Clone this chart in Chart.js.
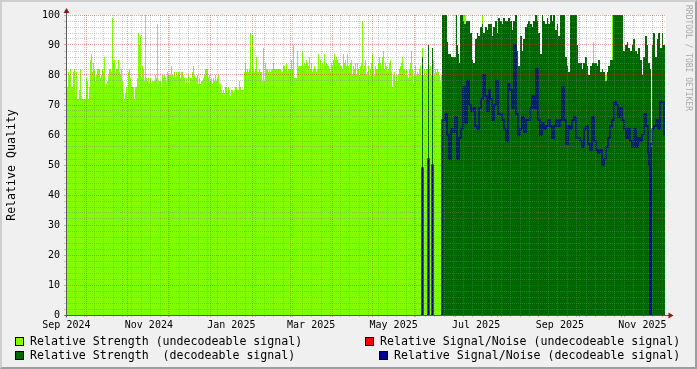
<!DOCTYPE html>
<html>
<head>
<meta charset="utf-8">
<script src="https://cdn.jsdelivr.net/npm/chart.js@4/dist/chart.umd.min.js"></script>
<style>
  html, body { margin:0; padding:0; background:#F0F0F0; }
  #frame { position:absolute; left:0; top:0; width:697px; height:369px; box-sizing:border-box;
           border-top:2px solid #CFCFCF; border-left:2px solid #CFCFCF;
           border-right:2px solid #9E9E9E; border-bottom:2px solid #9E9E9E; background:#F0F0F0; }
  #chart { position:absolute; left:0; top:0; }
  .lg { position:absolute; font-family:'DejaVu Sans Mono', monospace; font-size:11.6px; line-height:14px;
        color:#000; white-space:pre; }
  .box { position:absolute; width:7px; height:7px; border:1px solid #000; }
  #credit { position:absolute; left:683px; top:5px; writing-mode:vertical-rl;
            font-family:'DejaVu Sans Mono', monospace; font-size:8px; line-height:10px; color:#A8A8A8; }
</style>
</head>
<body>
<div id="frame"></div>
<canvas id="chart" width="697" height="369"></canvas>

<div class="box" style="left:15px;top:337px;background:#80FF00"></div>
<div class="lg" style="left:30px;top:334px">Relative Strength (undecodeable signal)</div>
<div class="box" style="left:365px;top:337px;background:#FF0000"></div>
<div class="lg" style="left:380px;top:334px">Relative Signal/Noise (undecodeable signal)</div>
<div class="box" style="left:15px;top:351px;background:#006600"></div>
<div class="lg" style="left:30px;top:348px">Relative Strength  (decodeable signal)</div>
<div class="box" style="left:379px;top:351px;background:#000099"></div>
<div class="lg" style="left:394px;top:348px">Relative Signal/Noise (decodeable signal)</div>
<div id="credit">RRDTOOL / TOBI OETIKER</div>

<script>
// rrdtool style quality graph - one sample per pixel column

const MONTHS = ['Jan','Feb','Mar','Apr','May','Jun','Jul','Aug','Sep','Oct','Nov','Dec'];
const xTickLabels = ['Sep 2024','Nov 2024','Jan 2025','Mar 2025','May 2025','Jul 2025','Sep 2025','Nov 2025'];

const T_START = Date.UTC(2024, 8, 16, 5, 0);   // first sample
const STEP_MS = 63900 * 1000;                   // sample step
const N_SAMPLES = 600;
const DEC_FROM = 350;                           // first sample of the decodeable series

// relative strength, undecodeable signal (light green)
const undecStrength = [
  76,76,81,80,82,76,76,81,82,73, 81,72,72,75,82,73,72,72,72,72,
  79,78,72,76,85,87,81,84,82,78, 80,82,82,82,79,80,82,81,86,76,
  77,78,80,82,82,81,99,84,85,81, 82,82,85,81,80,82,78,74,72,74,
  76,72,81,82,79,76,76,76,72,76, 76,79,94,90,93,79,83,82,78,100,
  79,78,79,77,79,77,78,78,78,80, 79,97,78,78,78,76,80,79,80,79,
  78,81,80,80,80,83,80,79,81,79, 81,80,81,81,79,81,81,80,79,77,
  79,77,80,77,79,79,81,83,80,79, 79,80,77,79,77,78,78,79,80,82,
  82,82,79,80,78,79,77,79,78,80, 78,79,80,76,77,75,74,75,74,76,
  76,74,76,75,73,75,75,74,75,76, 76,75,75,
  78,76,75,75,75,81,84,81,82,81, 82,94,81,93,82,81,82,86,81,81,
  82,81,81,78,89,78,84,82,82,81, 82,81,82,82,84,82,82,82,82,82,
  82,82,81,81,83,83,82,84,81,82, 82,82,85,82,90,79,79,79,88,83,
  83,83,83,88,83,84,83,85,84,83, 86,82,84,81,82,83,82,81,82,87,
  82,85,82,84,82,87,83,84,83,83, 82,81,84,83,85,87,85,86,85,84,
  84,83,83,82,87,84,85,83,87,83, 81,84,85,80,83,82,84,80,84,82,
  80,83,84,98,82,83,85,80,81,83, 80,82,84,87,82,80,83,82,82,84,
  86,84,82,86,88,82,84,83,81,82, 84,85,81,76,80,81,78,80,78,80,
  82,83,84,86,82,82,80,82,80,79, 82,84,88,82,77,80,83,80,81,80,
  82,83,80,89,80,82,80,82,82,81, 82,83,80,83,85,80,82,81,82,81,
  80,78,80,
  0,0,0,0,0,0,0,0,0,0, 0,0,0,0,0,0,0,0,0,0,
  0,100,100,100,0,0,0,0,0,0, 0,0,0,0,0,0,0,0,0,0,
  100,0,0,0,0,0,0,0,0,0, 0,0,0,0,0,0,0,0,0,0,
  0,0,0,0,0,0,0,0,0,0, 0,0,0,0,0,0,0,0,0,0,
  0,0,0,0,0,0,0,0,0,0, 0,0,0,0,0,100,0,0,0,0,
  0,0,0,0,0,0,0,0,0,0, 0,0,0,0,0,0,0,0,0,0,
  0,0,0,0,0,0,0,0,0,0, 0,0,0,0,0,0,0,0,0,0,
  0,0,0,0,0,0,0,0,0,0, 0,91,0,0,0,0,0,0,0,0,
  0,0,0,80,80,0,0,0,0,0, 100,0,0,0,0,0,0,0,0,0,
  0,0,0,0,0,0,0,0,0,0, 0,0,0,0,0,0,0,0,0,82,
  0,0,0,0,0,0,0,0,0,0, 0,0,0,0
];

// relative strength, decodeable signal (dark green), from DEC_FROM
const decStrength = [
  0,0,0,0,0,0,86,0,0,0, 0,0,90,0,0,0,89,0,0,0, 0,0,0,0,0,0,
  100,100,100,100,100,91,87,87,87,86, 86,86,86,86,100,90,87,84,100,100,
  100,98,97,97,98,98,98,98,94,94, 85,84,84,92,92,94,93,93,96,96,
  97,94,94,96,96,95,97,97,97,97, 93,96,96,98,98,94,99,99,98,98,
  97,99,99,98,98,98,99,99,98,98, 95,98,98,100,100,88,83,83,93,93,
  88,92,92,96,96,97,98,98,97,97, 96,98,98,100,100,98,94,94,87,87,
  100,98,98,97,97,99,97,97,100,100, 98,100,100,95,95,97,93,93,100,100,
  100,100,100,86,86,83,81,81,100,100, 100,100,100,100,100,90,84,84,84,84,
  82,84,84,86,86,83,80,80,83,83, 84,84,84,84,84,83,85,85,81,81,
  82,81,81,78,78,81,83,83,85,85, 85,100,100,100,100,100,100,100,100,100,
  100,88,88,90,90,91,89,89,88,88, 90,92,92,88,88,87,89,89,85,85,
  80,86,86,93,93,90,84,84,82,56, 90,94,94,86,86,92,94,94,89,89,
  94,90,90,92
];

// relative signal/noise, decodeable signal (blue line), from DEC_FROM
const decSignalNoise = [
  null,null,null,null,null,0,49,0,null,null, null,0,52,0,null,0,50,0,null,null,
  null,null,null,null,null,0,
  65,65,65,67,67,60,60,52,52,62, 62,61,61,66,66,52,52,59,59,62,
  62,76,76,64,64,78,78,70,70,68, 68,69,69,63,63,62,62,69,69,72,
  72,80,80,73,73,68,68,75,72,72, 65,65,70,70,78,78,67,67,67,67,
  65,65,62,62,58,58,77,77,75,75, 69,69,90,90,67,67,60,60,62,62,
  66,66,61,61,65,65,65,65,69,69, 73,73,69,69,82,82,65,65,60,60,
  64,64,62,62,63,63,65,65,63,63, 59,59,63,63,65,65,63,63,65,65,
  76,76,65,65,57,57,63,63,62,62, 65,65,66,66,59,59,59,59,58,58,
  56,56,62,62,63,63,57,57,55,55, 66,66,58,58,55,55,54,54,55,55,
  50,50,52,52,56,56,59,59,63,63, 65,65,71,71,70,70,66,66,69,69,
  65,65,62,62,59,59,62,62,58,58, 56,56,62,62,56,56,59,59,58,58,
  60,60,67,67,63,63,54,50,0,57, 62,62,63,63,65,65,62,62,71,71,
  71,71,60,60
];

const COL_UNDEC = '#80FF00';
const COL_DEC = '#006600';
const COL_SN = '#000099';
const GRID_MINOR = 'rgba(130,130,130,0.4)';
const GRID_MAJOR = 'rgba(210,40,40,0.42)';
const FONT = "'DejaVu Sans Mono', monospace";

const xAt = i => T_START + i * STEP_MS;
const X_MAX = xAt(N_SAMPLES);

// time grid: weekly minor lines, monthly major lines, labels mid month
const xKind = new Map();
const xLabel = new Map();
const xTicks = [];
for (let t = Date.UTC(2024, 8, 23); t < X_MAX; t += 7 * 86400000) {
  if (t > T_START) { xKind.set(t, 'minor'); }
}
for (let y = 2024, m = 9; ; m++) {
  const t = Date.UTC(y, m, 1);
  if (t >= X_MAX) break;
  if (t > T_START) xKind.set(t, 'major');
}
xTickLabels.forEach(s => {
  const [mon, yr] = s.split(' ');
  const t = Date.UTC(+yr, MONTHS.indexOf(mon), 16, 12);
  xKind.set(t, 'label');
  xLabel.set(t, s);
});
xKind.forEach((k, t) => xTicks.push(t));
xTicks.sort((a, b) => a - b);

const gridColor = k => k === 'major' ? GRID_MAJOR : (k === 'minor' ? GRID_MINOR : 'rgba(0,0,0,0)');

const rrdFrame = {
  id: 'rrdFrame',
  beforeDraw(chart) {
    const {ctx, chartArea: a} = chart;
    ctx.save();
    ctx.fillStyle = '#FFFFFF';
    ctx.fillRect(a.left, a.top, a.right - a.left, a.bottom - a.top);
    ctx.restore();
  },
  afterDraw(chart) {
    const {ctx, chartArea: a} = chart;
    const x0 = Math.round(a.left) + 0.5, y0 = Math.round(a.bottom) + 0.5;
    ctx.save();
    ctx.strokeStyle = '#5A5A5A';
    ctx.lineWidth = 1;
    ctx.beginPath();
    ctx.moveTo(x0, y0 + 2); ctx.lineTo(x0, a.top - 3);
    ctx.moveTo(x0 - 2, y0); ctx.lineTo(a.right + 3, y0);
    ctx.stroke();
    ctx.fillStyle = '#8B1A1A';
    ctx.beginPath();
    ctx.moveTo(x0 - 3, a.top - 2); ctx.lineTo(x0, a.top - 7); ctx.lineTo(x0 + 3, a.top - 2);
    ctx.closePath(); ctx.fill();
    ctx.beginPath();
    ctx.moveTo(a.right + 2.5, y0 - 3); ctx.lineTo(a.right + 7.5, y0); ctx.lineTo(a.right + 2.5, y0 + 3);
    ctx.closePath(); ctx.fill();
    ctx.restore();
  }
};

const pts = (arr, from) => arr.map((v, i) => ({x: xAt(from + i), y: v}));

new Chart(document.getElementById('chart'), {
  type: 'line',
  data: {
    datasets: [
      { label: 'Relative Signal/Noise (decodeable signal)', data: pts(decSignalNoise, DEC_FROM),
        borderColor: COL_SN, borderWidth: 1.3, fill: false, stepped: 'before', order: 0 },
      { label: 'Relative Strength  (decodeable signal)', data: pts(decStrength, DEC_FROM),
        borderWidth: 0, backgroundColor: COL_DEC, fill: 'origin', stepped: 'before', order: 1 },
      { label: 'Relative Strength (undecodeable signal)', data: pts(undecStrength, 0),
        borderWidth: 0, backgroundColor: COL_UNDEC, fill: 'origin', stepped: 'before', order: 2 }
    ]
  },
  options: {
    responsive: false,
    animation: false,
    devicePixelRatio: 1,
    layout: { padding: { left: 0, top: 15, right: 31, bottom: 34 } },
    elements: { point: { radius: 0 }, line: { tension: 0 } },
    plugins: { legend: { display: false }, tooltip: { enabled: false } },
    scales: {
      x: {
        type: 'linear', min: T_START, max: X_MAX,
        afterBuildTicks: s => { s.ticks = xTicks.map(v => ({value: v})); },
        afterFit: s => { s.height = 20; },
        grid: { z: 1, color: c => gridColor(xKind.get(c.tick && c.tick.value)), tickLength: 2 },
        border: { display: false, dash: [1, 1] },
        ticks: { autoSkip: false, maxRotation: 0, padding: 2, color: '#000',
                 font: { family: FONT, size: 10 }, callback: v => xLabel.get(v) || '' }
      },
      y: {
        min: 0, max: 100,
        afterBuildTicks: s => { const t = []; for (let v = 0; v <= 100; v += 2) t.push({value: v}); s.ticks = t; },
        afterFit: s => { s.width = 66; },
        grid: { z: 1, color: c => (c.tick && c.tick.value % 10 === 0) ? GRID_MAJOR : GRID_MINOR, tickLength: 2 },
        border: { display: false, dash: [1, 1] },
        ticks: { autoSkip: false, padding: 4, color: '#000', font: { family: FONT, size: 10 },
                 callback: v => v % 10 === 0 ? String(v) : '' },
        title: { display: true, text: 'Relative Quality', color: '#000',
                 font: { family: FONT, size: 11.6 }, padding: { top: 5, bottom: 0 } }
      }
    }
  },
  plugins: [rrdFrame]
});
</script>
</body>
</html>
